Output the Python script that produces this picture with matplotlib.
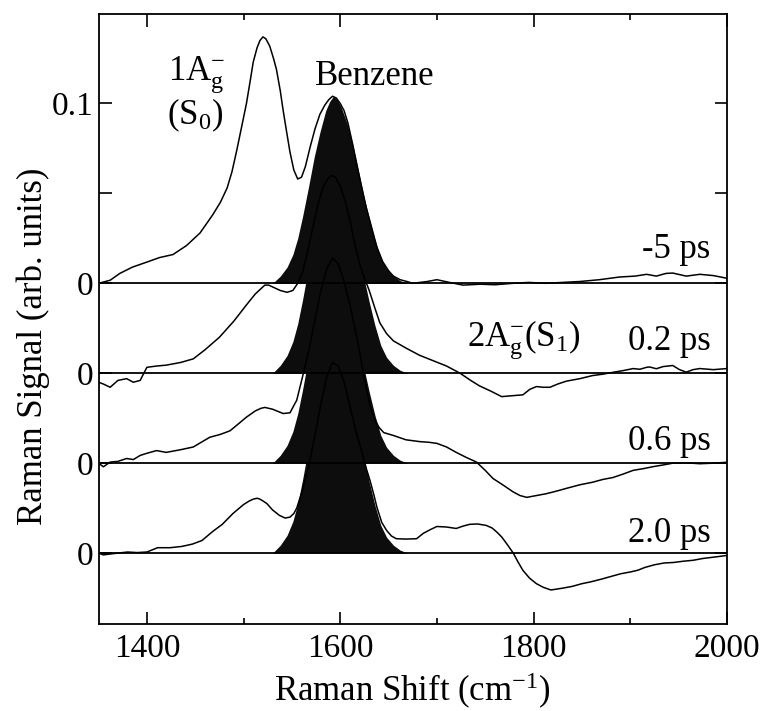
import numpy as np
import matplotlib
matplotlib.use("Agg")
import matplotlib.pyplot as plt
from matplotlib.ticker import MultipleLocator

plt.rcParams['font.family'] = ['Liberation Serif', 'DejaVu Serif']
plt.rcParams['mathtext.fontset'] = 'custom'
plt.rcParams['mathtext.rm'] = 'Liberation Serif'
plt.rcParams['mathtext.it'] = 'Liberation Serif:italic'

# ---- data (signal relative to each trace's own zero) ----
delays = ['-5 ps', '0.2 ps', '0.6 ps', '2.0 ps']
offsets = [0.0, -0.05, -0.10, -0.15]
band_scale = [1.0, 1.1, 1.1, 1.1]

x_m5 = [1350, 1362, 1372, 1385, 1400, 1413, 1427, 1441, 1455, 1468, 1476, 1483,
        1488, 1493, 1498, 1503, 1507, 1510, 1514, 1517, 1520, 1523, 1527, 1531,
        1534, 1538, 1541, 1544, 1548, 1552, 1556, 1560, 1564, 1569, 1574, 1579,
        1584, 1588, 1592, 1596, 1600, 1604, 1608, 1613, 1618, 1622, 1627, 1632,
        1638, 1644, 1650, 1655, 1662, 1669, 1675, 1690, 1700, 1713, 1727, 1745,
        1760, 1779, 1795, 1813, 1830, 1848, 1868, 1889, 1905, 1917, 1927, 1937,
        1944, 1958, 1972, 1986, 2000]
y_m5 = [0, 0.0017, 0.0055, 0.009, 0.0118, 0.0143, 0.016, 0.021, 0.028, 0.038,
        0.045, 0.053, 0.062, 0.074, 0.087, 0.100, 0.113, 0.123, 0.131, 0.135,
        0.137, 0.136, 0.132, 0.125, 0.119, 0.107, 0.096, 0.086, 0.073, 0.063,
        0.058, 0.059, 0.065, 0.076, 0.086, 0.094, 0.099, 0.102, 0.104, 0.103,
        0.100, 0.096, 0.089, 0.077, 0.064, 0.054, 0.042, 0.032, 0.020, 0.012,
        0.007, 0.004, 0.002, 0.001, 0, 0.001, 0.002, 0.0005, -0.001, -0.0005,
        -0.0008, 0, 0.0005, 0, 0.0005, 0.001, 0.002, 0.0035, 0.004, 0.005, 0.004,
        0.0055, 0.0057, 0.004, 0.005, 0.0043, 0.0028]

x_02 = [1350, 1355, 1362, 1370, 1379, 1386, 1393, 1400, 1410, 1420, 1435, 1448,
        1460, 1475, 1490, 1503, 1512, 1518, 1522, 1526, 1530, 1538, 1545, 1551,
        1556, 1561, 1566, 1572, 1577, 1582, 1587, 1591, 1595, 1600, 1605, 1610,
        1615, 1620, 1625, 1630, 1636, 1641, 1648, 1655, 1668, 1682, 1696, 1710,
        1724, 1735, 1744, 1756, 1767, 1778, 1789, 1796, 1803, 1810, 1817, 1825,
        1834, 1848, 1861, 1872, 1882, 1893, 1903, 1910, 1917, 1920, 1927, 1934,
        1944, 1951, 1958, 1965, 1972, 1986, 2000]
y_02 = [-0.005, -0.006, -0.0078, -0.004, -0.003, -0.005, -0.004, 0.0033, 0.004,
        0.0045, 0.006, 0.008, 0.013, 0.020, 0.029, 0.038, 0.044, 0.047, 0.049,
        0.049, 0.048, 0.046, 0.045, 0.046, 0.050, 0.056, 0.067, 0.082, 0.094,
        0.103, 0.108, 0.110, 0.109, 0.104, 0.096, 0.085, 0.072, 0.061, 0.053,
        0.046, 0.036, 0.028, 0.022, 0.018, 0.014, 0.010, 0.007, 0.004, 0.0,
        -0.004, -0.007, -0.010, -0.013, -0.0125, -0.012, -0.009, -0.0074, -0.0078,
        -0.0078, -0.006, -0.0044, -0.003, -0.0013, -0.0005, 0.0005, 0.0015,
        0.0026, 0.0022, 0.0033, 0.0035, 0.0025, 0.0037, 0.0043, 0.002, 0.0006,
        0.002, 0.0026, 0.002, 0.0026]

x_06 = [1350, 1355, 1362, 1370, 1379, 1386, 1393, 1400, 1410, 1420, 1435, 1448,
        1465, 1476, 1486, 1495, 1503, 1512, 1518, 1522, 1526, 1530, 1541, 1548,
        1555, 1561, 1568, 1574, 1580, 1586, 1592, 1598, 1604, 1610, 1616, 1620,
        1624, 1628, 1631, 1635, 1640, 1645, 1655, 1668, 1682, 1692, 1700, 1710,
        1720, 1730, 1741, 1750, 1758, 1768, 1779, 1786, 1793, 1803, 1813, 1824,
        1834, 1848, 1861, 1872, 1882, 1893, 1903, 1914, 1924, 1934, 1944, 1958,
        1972, 1986, 2000]
y_06 = [0, -0.002, 0.0006, 0.001, 0.0026, 0.002, 0.0043, 0.0055, 0.007, 0.006,
        0.0075, 0.009, 0.0144, 0.016, 0.018, 0.022, 0.0256, 0.029, 0.0305, 0.031,
        0.0305, 0.030, 0.0276, 0.028, 0.035, 0.048, 0.064, 0.080, 0.096, 0.108,
        0.114, 0.111, 0.101, 0.088, 0.073, 0.062, 0.050, 0.039, 0.032, 0.025,
        0.020, 0.017, 0.0154, 0.013, 0.012, 0.0116, 0.011, 0.009, 0.006, 0.0033,
        0.0006, -0.004, -0.0085, -0.012, -0.016, -0.018, -0.019, -0.018, -0.017,
        -0.0155, -0.014, -0.012, -0.0106, -0.009, -0.008, -0.006, -0.004, -0.003,
        -0.0019, -0.001, 0, 0.0002, -0.0003, 0, 0.0005]

x_20 = [1350, 1355, 1362, 1370, 1380, 1390, 1400, 1411, 1424, 1436, 1447, 1457,
        1468, 1478, 1489, 1500, 1506, 1510, 1514, 1517, 1520, 1524, 1530, 1537,
        1543, 1548, 1552, 1555, 1561, 1568, 1574, 1580, 1586, 1592, 1598, 1604,
        1610, 1616, 1622, 1627, 1631, 1635, 1638, 1643, 1648, 1653, 1658, 1668,
        1679, 1686, 1693, 1700, 1710, 1720, 1727, 1734, 1742, 1751, 1757, 1762,
        1767, 1772, 1779, 1784, 1789, 1796, 1803, 1810, 1818, 1830, 1840, 1850,
        1859, 1870, 1880, 1890, 1900, 1908, 1915, 1925, 1935, 1945, 1955, 1965,
        1975, 1990, 2000]
y_20 = [0, -0.001, -0.0005, 0, 0.0006, 0.0003, 0.0006, 0.003, 0.003, 0.0037,
        0.005, 0.007, 0.012, 0.016, 0.022, 0.027, 0.029, 0.030, 0.0305, 0.030,
        0.029, 0.0276, 0.024, 0.021, 0.0195, 0.020, 0.022, 0.025, 0.035, 0.050,
        0.066, 0.083, 0.098, 0.106, 0.104, 0.095, 0.082, 0.068, 0.057, 0.047,
        0.040, 0.032, 0.0254, 0.017, 0.0126, 0.0095, 0.008, 0.0078, 0.008, 0.011,
        0.013, 0.0148, 0.0145, 0.0137, 0.015, 0.016, 0.0162, 0.0154, 0.014,
        0.0117, 0.009, 0.0054, 0, -0.005, -0.0096, -0.014, -0.017, -0.019,
        -0.0205, -0.0195, -0.0185, -0.017, -0.016, -0.0145, -0.013, -0.0115,
        -0.0105, -0.0095, -0.008, -0.0065, -0.0055, -0.0052, -0.0045, -0.004,
        -0.003, -0.002, -0.0013]

# benzene solvent band (black filled)
band_x = [1530, 1538, 1545, 1551, 1556, 1561, 1567, 1573, 1579, 1585, 1589, 1593,
          1597, 1601, 1607, 1613, 1619, 1625, 1630, 1636, 1642, 1648, 1655, 1662,
          1670]
band_y = [0, 0.004, 0.009, 0.016, 0.025, 0.037, 0.053, 0.070, 0.084, 0.096,
          0.101, 0.104, 0.102, 0.098, 0.089, 0.077, 0.062, 0.047, 0.036, 0.024,
          0.014, 0.008, 0.004, 0.0015, 0]

traces = [(x_m5, y_m5), (x_02, y_02), (x_06, y_06), (x_20, y_20)]

fig = plt.figure(figsize=(7.7, 7.11), dpi=100)
ax = fig.add_axes([0.128, 0.1224, 0.816, 0.8586])

bx = np.array(band_x)
by = np.array(band_y)
for off, sc in zip(offsets, band_scale):
    ax.fill_between(bx, off, off + sc * by, color='#0d0d0d', lw=0, zorder=1)

for off in offsets:
    ax.axhline(off, color='black', lw=1.3, zorder=2)

for (xs, ys), off in zip(traces, offsets):
    ax.plot(xs, np.array(ys) + off, color='black', lw=1.1, zorder=3)

ax.set_xlim(1350, 2000)
ax.set_ylim(-0.1894, 0.15)

ax.xaxis.set_major_locator(MultipleLocator(200))
ax.xaxis.set_minor_locator(MultipleLocator(100))
ax.set_yticks([-0.15, -0.10, -0.05, 0, 0.05, 0.1])
ax.set_yticklabels(['0', '0', '0', '0', '', '0.1'])

ax.tick_params(which='both', direction='in', top=True, right=True, width=1.2,
               labelsize=24)
ax.tick_params(which='major', length=9)
ax.tick_params(which='minor', length=4.5)
ax.tick_params(axis='x', pad=7)
ax.tick_params(axis='y', pad=4)
for s in ax.spines.values():
    s.set_linewidth(1.3)

ax.set_xlabel('Raman Shift (cm$^{-1}$)', fontsize=25, labelpad=5)
ax.set_ylabel('Raman Signal (arb. units)', fontsize=25)
ax.yaxis.set_label_coords(-0.078, 0.455)

fs = 25
ax.text(1421.5, 0.1135, '1A$_\\mathrm{g}^{-}$', fontsize=fs, va='baseline')
ax.text(1420.5, 0.0885, '(S$_0$)', fontsize=fs, va='baseline')
ax.text(1574, 0.1105, 'Benzene', fontsize=fs, va='baseline')
ax.text(1731, -0.0344, '2A$_\\mathrm{g}^{-}$(S$_1$)', fontsize=fs, va='baseline')
label_y = [0.0139, -0.0372, -0.0928, -0.1437]
for lab, ly in zip(delays, label_y):
    ax.text(1983, ly, lab, fontsize=fs, ha='right', va='baseline')

fig.savefig('out.png', dpi=100)
